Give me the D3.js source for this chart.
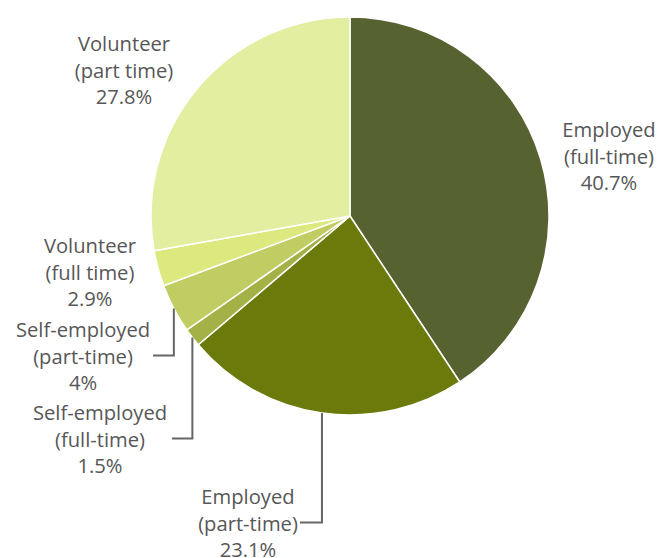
<!DOCTYPE html>
<html>
<head>
<meta charset="utf-8">
<script src="https://cdn.jsdelivr.net/npm/d3@7"></script>
<style>
  html, body { margin: 0; padding: 0; background: #fff; }
  svg { display: block; }
  .lbl { font-family: "Open Sans", sans-serif; font-size: 20.2px; fill: #575757; }
</style>
</head>
<body>
<svg id="chart" width="659" height="558"></svg>
<script>
// Employment status shares (percent), clockwise from 12 o'clock
const categories = [
  "Employed (full-time)",
  "Employed (part-time)",
  "Self-employed (full-time)",
  "Self-employed (part-time)",
  "Volunteer (full time)",
  "Volunteer (part time)"
];
const values = [40.7, 23.1, 1.5, 4, 2.9, 27.8];
const labelLines = [
  ["Employed", "(full-time)"],
  ["Employed", "(part-time)"],
  ["Self-employed", "(full-time)"],
  ["Self-employed", "(part-time)"],
  ["Volunteer", "(full time)"],
  ["Volunteer", "(part time)"]
];
const colors = ["#566330", "#6b7a0b", "#a3b146", "#c1cd62", "#dde97f", "#e3eea1"];

// Label placement: text centre x, first baseline y, connector end x (null = no connector)
const labelLayout = [
  { x: 609, y: 137, tip: null },
  { x: 248, y: 504, tip: 300 },
  { x: 100, y: 420, tip: 172 },
  { x: 83,  y: 337, tip: 153 },
  { x: 90,  y: 253, tip: null },
  { x: 124, y: 51,  tip: null }
];

const cx = 350, cy = 216, radius = 199, lineGap = 26.5;

const svg = d3.select("#chart");
const g = svg.append("g").attr("transform", `translate(${cx},${cy})`);

const pie = d3.pie().sort(null).value(d => d);
const arcs = pie(values);
const arc = d3.arc().innerRadius(0).outerRadius(radius);

g.selectAll("path.slice")
  .data(arcs)
  .join("path")
  .attr("class", "slice")
  .attr("d", arc)
  .attr("fill", (d, i) => colors[i])
  .attr("stroke", "#ffffff")
  .attr("stroke-width", 1.5)
  .attr("stroke-linejoin", "round");

// Elbow connectors: from the slice's outer midpoint straight down, then across to the label
const fmt = v => (Math.round(v * 10) / 10) + "%";
arcs.forEach((d, i) => {
  const L = labelLayout[i];
  if (L.tip === null) return;
  const mid = (d.startAngle + d.endAngle) / 2;
  const px = cx + radius * Math.sin(mid);
  const py = cy - radius * Math.cos(mid);
  const ly = L.y + lineGap - 8;
  svg.append("path")
    .attr("d", `M${px},${py}V${ly}H${L.tip}`)
    .attr("fill", "none")
    .attr("stroke", "#666666")
    .attr("stroke-width", 2);
});

// Three-line labels: name, qualifier, value
arcs.forEach((d, i) => {
  const L = labelLayout[i];
  const t = svg.append("text")
    .attr("class", "lbl")
    .attr("text-anchor", "middle")
    .attr("x", L.x)
    .attr("y", L.y);
  const lines = labelLines[i].concat([fmt(values[i])]);
  lines.forEach((s, k) => {
    t.append("tspan").attr("x", L.x).attr("y", L.y + k * lineGap).text(s);
  });
});
</script>
</body>
</html>
